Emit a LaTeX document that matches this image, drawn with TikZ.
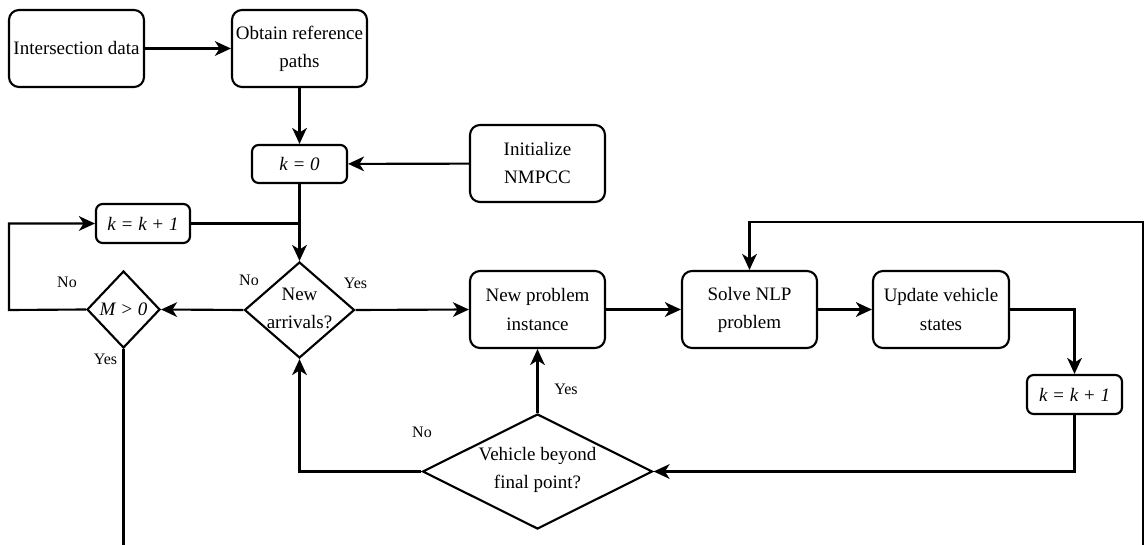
\documentclass[tikz,border=0pt]{standalone}
\usepackage{fontspec}
\setmainfont{Liberation Serif}
\usetikzlibrary{arrows.meta,shapes.geometric}
\begin{document}
\begin{tikzpicture}[x=0.75pt,y=-0.75pt,
  every node/.style={font=\rmfamily\fontsize{14.25pt}{21pt}\selectfont},
  box/.style={draw,line width=1.6pt,rounded corners=7.5pt,align=center,inner sep=0pt,
    minimum width=101.25pt,minimum height=57.75pt},
  sbox/.style={draw,line width=1.6pt,rounded corners=5pt,align=center,inner sep=0pt,
    minimum width=71.25pt,minimum height=28.5pt},
  dia/.style={draw,line width=1.6pt,diamond,inner sep=0pt},
  dtext/.style={align=center,inner sep=0pt},
  lab/.style={font=\rmfamily\fontsize{12pt}{14pt}\selectfont,inner sep=0pt},
  conn/.style={line width=1.6pt},
  arr/.style={conn,-{Stealth[length=12pt,width=11pt,inset=3.5pt]}}]
\useasboundingbox (0,0) rectangle (1145,545);

\node[box] (int) at (76.5,48.5) {Intersection data};
\node[box] (obt) at (299.5,48.5) {Obtain reference\\paths};
\node[sbox] (k0) at (299.5,164) {\textit{k = 0}};
\node[box] (init) at (537.5,163.5) {Initialize\\NMPCC};
\node[sbox,minimum width=70.5pt,minimum height=29.25pt] (kl) at (143,223.5) {\textit{k = k + 1}};

\node[dia,minimum width=82.5pt,minimum height=72pt] (na) at (299.5,310) {};
\node[dtext] (natext) at (299.5,308) {New\\arrivals?};
\node[dia,minimum width=54.75pt,minimum height=57.75pt] (m) at (123.5,309.5) {};
\node[dtext] (mtext) at (123.5,309.5) {\textit{M > 0}};

\node[box] (np) at (537.5,309.5) {New problem\\instance};
\node[box] (nlp) at (749.5,309.5) {Solve NLP\\problem};
\node[box,minimum width=102pt] (upd) at (941,309.5) {Update vehicle\\states};
\node[sbox,minimum width=71.25pt,minimum height=29.25pt] (kr) at (1074.5,394.5) {\textit{k = k + 1}};

\node[dia,minimum width=172.5pt,minimum height=86.25pt] (veh) at (537.5,471.5) {};
\node[dtext] (vehtext) at (537.5,469.5) {Vehicle beyond\\final point?};

\coordinate (lp) at (9,310);
\coordinate (mbot) at (123.5,545);
\coordinate (bl) at (1143,545);
\coordinate (bt) at (1143,222);

\draw[arr] (int) -- (obt);
\draw[arr] (obt) -- (k0);
\draw[arr] (init) -- (k0);
\draw[arr] (k0) -- (na);
\draw[conn] (kl.east) -- (kl.east -| k0.south);
\draw[arr] (na.west) -- (m.east);
\draw[arr] (m.west) -- (lp) |- (kl.west);
\draw[conn] (m.south) -- (mbot);
\draw[arr] (na.east) -- (np.west);
\draw[arr] (np.east) -- (nlp.west);
\draw[arr] (nlp.east) -- (upd.west);
\draw[arr] (upd.east) -| (kr.north);
\draw[arr] (kr.south) |- (veh.east);
\draw[arr] (veh.north) -- (np.south);
\draw[arr] (veh.west) -| (na.south);
\draw[arr] (bl) -- (bt) -| (nlp.north);

\node[lab] (l1) at (67,282) {No};
\node[lab] (l2) at (105.5,359) {Yes};
\node[lab] (l3) at (249,280) {No};
\node[lab] (l4) at (355.5,283) {Yes};
\node[lab] (l5) at (566,389) {Yes};
\node[lab] (l6) at (422,432) {No};
\end{tikzpicture}
\end{document}
